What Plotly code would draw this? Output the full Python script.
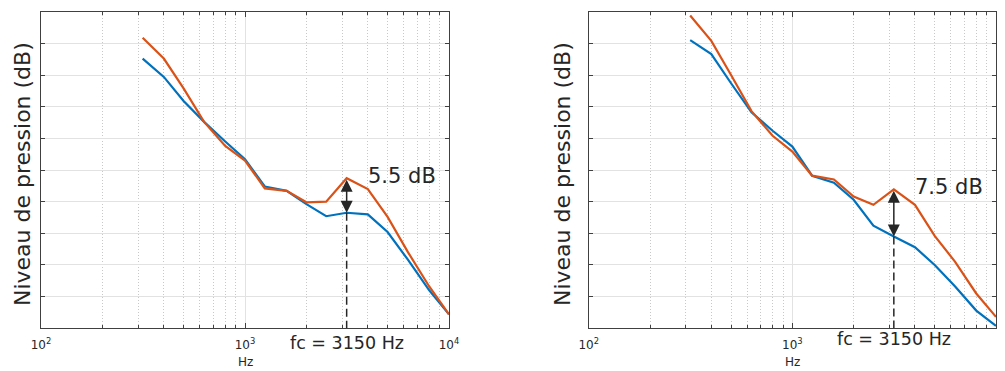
import math
import plotly.graph_objects as go

# 1/3-octave band centre frequencies (Hz)
freqs = [315, 400, 500, 630, 800, 1000, 1250, 1600, 2000, 2500, 3150, 4000, 5000, 6300, 8000, 10000]

# Left panel (dB)
left_blue = [62.6, 59.7, 55.9, 52.6, 49.5, 46.7, 42.4, 41.7, 39.6, 37.7, 38.25, 38.0, 35.2, 30.8, 26.0, 22.2]
left_orange = [65.9, 62.6, 57.9, 52.6, 48.8, 46.5, 42.1, 41.7, 39.9, 40.0, 43.7, 42.0, 37.6, 32.0, 26.6, 22.2]

# Right panel (dB)
right_blue = [65.5, 63.3, 58.7, 54.1, 51.2, 48.7, 44.1, 43.0, 40.3, 36.2, 34.5, 32.8, 30.0, 26.6, 22.8, 20.4]
right_orange = [69.4, 65.4, 60.0, 54.3, 50.4, 47.9, 44.1, 43.5, 40.8, 39.5, 41.95, 39.5, 34.6, 30.5, 25.5, 21.8]

fc = 3150
deltas = ["5.5 dB", "7.5 dB"]
fc_label = "fc = 3150 Hz"
y_title = "Niveau de pression (dB)"
x_title = "Hz"
x_tickvals = [100, 1000, 10000]
x_ticktext = ["10<sup>2</sup>", "10<sup>3</sup>", "10<sup>4</sup>"]
y_min, y_max, y_step = 20, 70, 5

BLUE = "#0072BD"
ORANGE = "#D95319"
AX = "#404040"
TXT = "#262626"
FONT = "DejaVu Sans"

# page body has an 8px margin; size the figure so it fits the 1005x371 window
OFF = 8
W, H = 1005 - OFF, 371 - OFF


def px_x(X):
    return (X - OFF) / W


def px_y(Y):
    return 1 - (Y - OFF) / H


fig = go.Figure()

panels = [
    (left_blue, left_orange, "x", "y", [px_x(41), px_x(449)], 23),
    (right_blue, right_orange, "x2", "y2", [px_x(588.7), px_x(996)], 563),
]

minor_vals = [200, 300, 400, 500, 600, 700, 800, 900, 2000, 3000, 4000, 5000, 6000, 7000, 8000, 9000]
ydom = [px_y(328.3), px_y(11.7)]

for i, (blue, orange, xr, yr, dom, ytx) in enumerate(panels):
    fig.add_trace(go.Scatter(x=freqs, y=blue, mode="lines", line=dict(color=BLUE, width=2.2),
                             xaxis=xr, yaxis=yr, showlegend=False))
    fig.add_trace(go.Scatter(x=freqs, y=orange, mode="lines", line=dict(color=ORANGE, width=2.2),
                             xaxis=xr, yaxis=yr, showlegend=False))
    k = freqs.index(fc)
    # dashed line from blue value down to axis
    fig.add_trace(go.Scatter(x=[fc, fc], y=[blue[k], y_min], mode="lines",
                             line=dict(color=TXT, width=1.5, dash="8px,4px"),
                             xaxis=xr, yaxis=yr, showlegend=False))
    lx = math.log10(fc)
    # double-headed arrow
    fig.add_annotation(x=lx, y=blue[k], ax=lx, ay=orange[k], xref=xr, yref=yr,
                       axref=xr, ayref=yr, text="", showarrow=True, arrowhead=2,
                       arrowside="end+start", arrowsize=1.6, arrowwidth=1.5, arrowcolor=TXT)
    # delta label
    fig.add_annotation(x=lx + 0.095, y=orange[k] + 0.3, xref=xr, yref=yr, text=deltas[i],
                       showarrow=False, xanchor="left", yanchor="middle",
                       font=dict(family=FONT, size=21, color=TXT))
    # fc label (below the axis)
    fig.add_annotation(x=lx, y=(-0.046 if i == 0 else -0.034), xref=xr, yref=yr + " domain",
                       text=fc_label, showarrow=False, xanchor="center", yanchor="middle",
                       font=dict(family=FONT, size=17.5, color=TXT))
    # y title
    fig.add_annotation(x=px_x(ytx), y=px_y(174), xref="paper", yref="paper",
                       text=y_title, textangle=-90, showarrow=False,
                       xanchor="center", yanchor="middle",
                       font=dict(family=FONT, size=22, color=TXT))
    # x title
    fig.add_annotation(x=(dom[0] + dom[1]) / 2, y=px_y(362), xref="paper", yref="paper",
                       text=x_title, showarrow=False, xanchor="center", yanchor="middle",
                       font=dict(family=FONT, size=12, color=TXT))

    xkey = "xaxis" if i == 0 else "xaxis2"
    ykey = "yaxis" if i == 0 else "yaxis2"
    fig.update_layout(**{
        xkey: dict(type="log", range=[2, 4], domain=dom, anchor=yr, automargin=False,
                   tickmode="array", tickvals=x_tickvals, ticktext=x_ticktext,
                   ticks="inside", ticklen=5, tickcolor=AX, tickwidth=1,
                   ticklabelstandoff=5,
                   showline=True, linecolor=AX, linewidth=1, mirror="ticks",
                   showgrid=True, gridcolor="#e2e2e2", gridwidth=1,
                   tickfont=dict(family=FONT, size=12, color=TXT),
                   minor=dict(tickmode="array", tickvals=minor_vals, ticks="inside", ticklen=3,
                              tickcolor=AX, showgrid=True, gridcolor="#c8c8c8",
                              griddash="1px,2px", gridwidth=1),
                   zeroline=False, fixedrange=True),
        ykey: dict(range=[y_min, y_max], domain=ydom, anchor=xr, dtick=y_step, tick0=y_min,
                   automargin=False,
                   showticklabels=False, ticks="inside", ticklen=4, tickcolor=AX,
                   showline=True, linecolor=AX, linewidth=1, mirror="ticks",
                   showgrid=True, gridcolor="#e2e2e2", gridwidth=1,
                   zeroline=False, fixedrange=True),
    })

fig.update_layout(width=W, height=H, margin=dict(l=0, r=0, t=0, b=0, autoexpand=False),
                  paper_bgcolor="white", plot_bgcolor="white", showlegend=False,
                  font=dict(family=FONT, color=TXT))

fig.write_html("out.html")
